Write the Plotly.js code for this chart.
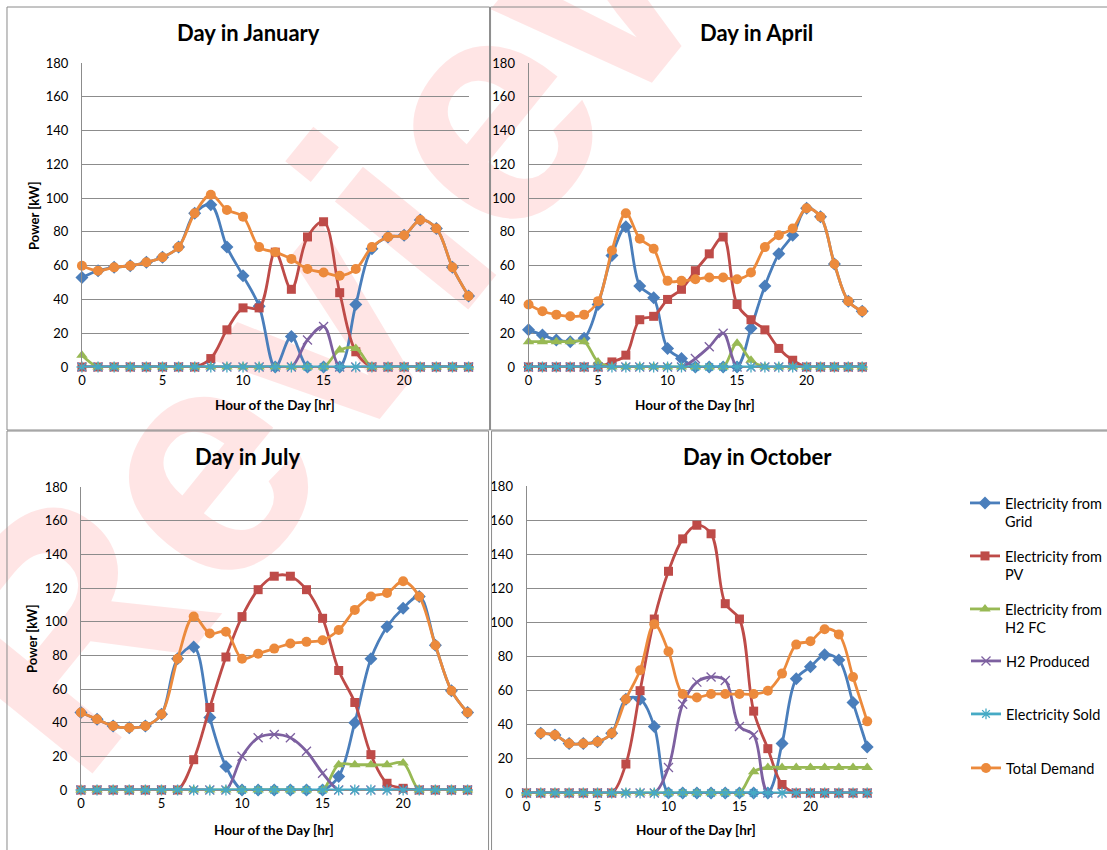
<!DOCTYPE html>
<html><head><meta charset="utf-8">
<script src="https://cdn.plot.ly/plotly-3.0.1.min.js"></script>
<style>html,body{margin:0;padding:0;background:#fff}#chart{width:1107px;height:850px}</style>
</head><body><div id="chart"></div>
<script>
// ---- data ----
const hours = [0,1,2,3,4,5,6,7,8,9,10,11,12,13,14,15,16,17,18,19,20,21,22,23,24];
const xTicks = [0,5,10,15,20];

const seriesNames = ['Electricity from<br>Grid','Electricity from<br>PV','Electricity from<br>H2 FC','H2 Produced','Electricity Sold','Total Demand'];
const panelTitles = ['Day in January','Day in April','Day in July','Day in October'];

// January
const janGrid   = [53,57,59,60,62,65,71,91,96,71,54,36,0,18,0,0,0,37,70,77,78,87,82,59,42];
const janPV     = [0,0,0,0,0,0,0,0,5,22,35,35,68,46,77,86,44,9,0,0,0,0,0,0,0];
const janFC     = [7,0,0,0,0,0,0,0,0,0,0,0,0,0,0,0,10,11,0,0,0,0,0,0,0];
const janH2     = [0,0,0,0,0,0,0,0,0,0,0,0,0,0,16,24,0,0,0,0,0,0,0,0,0];
const janSold   = [0,0,0,0,0,0,0,0,0,0,0,0,0,0,0,0,0,0,0,0,0,0,0,0,0];
const janDemand = [60,57,59,60,62,65,71,91,102,93,89,71,68,64,58,56,54,58,71,77,78,87,82,59,42];

// April
const aprGrid   = [22,19,16,15,17,37,66,83,48,41,11,5,0,0,0,0,23,48,67,78,94,89,61,39,33];
const aprPV     = [0,0,0,0,0,0,3,7,28,30,40,46,57,67,77,37,28,22,11,4,0,0,0,0,0];
const aprFC     = [15,15,15,15,15,3,0,0,0,0,0,0,0,0,0,14,4,0,0,0,0,0,0,0,0];
const aprH2     = [0,0,0,0,0,0,0,0,0,0,0,0,5,12,20,0,0,0,0,0,0,0,0,0,0];
const aprSold   = [0,0,0,0,0,0,0,0,0,0,0,0,0,0,0,0,0,0,0,0,0,0,0,0,0];
const aprDemand = [37,33,31,30,31,39,69,91,76,70,51,51,52,53,53,52,56,71,78,82,94,89,61,39,33];

// July
const julGrid   = [46,42,38,37,38,45,78,85,43,14,0,0,0,0,0,0,8,40,78,97,108,115,86,59,46];
const julPV     = [0,0,0,0,0,0,0,18,49,79,103,119,127,127,119,102,71,52,21,4,1,0,0,0,0];
const julFC     = [0,0,0,0,0,0,0,0,0,0,0,0,0,0,0,0,15,15,15,15,16,0,0,0,0];
const julH2     = [0,0,0,0,0,0,0,0,0,0,20,31,33,31,23,10,0,0,0,0,0,0,0,0,0];
const julSold   = [0,0,0,0,0,0,0,0,0,0,0,0,0,0,0,0,0,0,0,0,0,0,0,0,0];
const julDemand = [46,42,38,37,38,45,78,103,93,94,78,81,84,87,88,89,95,107,115,117,124,115,86,59,46];

// October
const octGrid   = [null,35,34,29,29,30,35,55,55,39,0,0,0,0,0,0,0,0,29,67,74,81,78,53,27];
const octPV     = [0,0,0,0,0,0,0,17,60,102,130,149,157,152,111,102,48,26,5,0,0,0,0,0,0];
const octFC     = [0,0,0,0,0,0,0,0,0,0,0,0,0,0,0,0,12.5,15,15,15,15,15,15,15,15];
const octH2     = [0,0,0,0,0,0,0,0,0,0,15,52,65,68,66,39,34,0,0,0,0,0,0,0,0];
const octSold   = [0,0,0,0,0,0,0,0,0,0,0,0,0,0,0,0,0,0,0,0,0,0,0,0,0];
const octDemand = [null,35,34,29,29,30,35,55,72,99,83,58,56,58,58,58,58,60,70,87,89,96,93,68,42];

const panelData = [
  [janGrid, janPV, janFC, janH2, janSold, janDemand],
  [aprGrid, aprPV, aprFC, aprH2, aprSold, aprDemand],
  [julGrid, julPV, julFC, julH2, julSold, julDemand],
  [octGrid, octPV, octFC, octH2, octSold, octDemand]
];

// ---- style ----
const W = 1107, H = 850;
const FONT = 'Lato, "Open Sans", sans-serif';
const colors  = ['#4A7EBB','#BE4B48','#98B954','#7D60A0','#46AAC5','#EC8A3C'];
const symbols = ['diamond','square','triangle-up','x-thin-open','asterisk-open','circle'];
const msizes  = [10,9,10,9,9,10];
const gridCol = '#8C8C8C';

// pixel boxes of plot areas: [x0, x1, yTop, yBottom]
const boxes = [[82,469,63,367],[529,863,63,367],[81,468,487,790],[527,868,486,793]];
const px = v => v / W, py = v => 1 - v / H;

const traces = [];
panelData.forEach((series, p) => {
  const xa = 'x' + (p ? p + 1 : ''), ya = 'y' + (p ? p + 1 : '');
  series.forEach((vals, s) => {
    const open = symbols[s].includes('open');
    traces.push({
      x: hours, y: vals, xaxis: xa, yaxis: ya,
      name: seriesNames[s], type: 'scatter', mode: 'lines+markers',
      line: {color: colors[s], width: 2.8, shape: 'spline', smoothing: 1},
      marker: {symbol: symbols[s], size: msizes[s], color: colors[s],
               line: {color: colors[s], width: open ? 1.3 : 0}},
      cliponaxis: false, connectgaps: false,
      showlegend: p === 0,
      legend: s === 0 ? 'legend' : 'legend' + (s + 1),
      hoverinfo: 'x+y+name'
    });
  });
});

const layout = {
  width: W, height: H,
  margin: {l: 0, r: 0, t: 0, b: 0},
  paper_bgcolor: '#ffffff', plot_bgcolor: 'rgba(0,0,0,0)',
  font: {family: FONT, size: 13, color: '#000'},
  annotations: [], shapes: []
};

boxes.forEach((b, p) => {
  const sfx = p ? String(p + 1) : '';
  layout['xaxis' + sfx] = {
    domain: [px(b[0]), px(b[1])], anchor: 'y' + sfx,
    range: [0, 24], tickvals: xTicks, showgrid: false, zeroline: false,
    showline: false, ticks: '', tickfont: {size: 13, color: '#000'},
    ticklabelstandoff: 4, fixedrange: true
  };
  layout['yaxis' + sfx] = {
    domain: [py(b[3]), py(b[2])], anchor: 'x' + sfx,
    range: [0, 180], tick0: 0, dtick: 20, showgrid: true,
    gridcolor: gridCol, gridwidth: 1, zeroline: true, zerolinecolor: gridCol,
    zerolinewidth: 1, showline: true, linecolor: gridCol, linewidth: 1,
    ticks: '', tickfont: {size: 13, color: '#000'}, ticklabelstandoff: 10,
    fixedrange: true
  };
});

// titles
const titlePos = [[249,33],[757,33],[248,456],[758,456]];
titlePos.forEach((t, i) => layout.annotations.push({
  text: '<b>' + panelTitles[i] + '</b>', xref: 'paper', yref: 'paper',
  x: px(t[0]), y: py(t[1]), xanchor: 'center', yanchor: 'middle',
  showarrow: false, font: {family: FONT, size: 22, color: '#000'}
}));
const xtPos = [[275,405],[696,405],[274,830],[697,830]];
xtPos.forEach(t => layout.annotations.push({
  text: '<b>Hour of the Day [hr]</b>', xref: 'paper', yref: 'paper',
  x: px(t[0]), y: py(t[1]), xanchor: 'center', yanchor: 'middle',
  showarrow: false, font: {family: FONT, size: 13.5, color: '#000'}
}));
[[34,215],[32,638]].forEach(t => layout.annotations.push({
  text: '<b>Power [kW]</b>', xref: 'paper', yref: 'paper', textangle: -90,
  x: px(t[0]), y: py(t[1]), xanchor: 'center', yanchor: 'middle',
  showarrow: false, font: {family: FONT, size: 13, color: '#000'}
}));

// panel borders
[[7,7,490,430],[491,7,1120,430],[7,431,489,870],[492,431,1120,870]].forEach(r => layout.shapes.push({
  type: 'rect', xref: 'paper', yref: 'paper',
  x0: px(r[0]), x1: px(r[2]), y0: py(r[3]), y1: py(r[1]),
  line: {color: '#8A8A8A', width: 1}, fillcolor: 'rgba(0,0,0,0)', layer: 'above'
}));

// watermark
layout.shapes.push({
  type: 'rect', xref: 'paper', yref: 'paper',
  x0: px(120), x1: px(520), y0: py(465), y1: py(65),
  line: {width: 0}, fillcolor: 'rgba(0,0,0,0)', layer: 'below',
  label: {text: 'Review', textangle: -51, textposition: 'middle center',
          font: {family: '"Liberation Sans", Arial, sans-serif', size: 325, weight: 'bold', color: 'rgba(255,0,0,0.10)'}}
});

// legends
const legTops = [487, 540, 593, 645, 698, 752];
legTops.forEach((t, i) => {
  layout[i === 0 ? 'legend' : 'legend' + (i + 1)] = {
    x: px(966), y: py(t), xanchor: 'left', yanchor: 'top', valign: 'top',
    bgcolor: 'rgba(0,0,0,0)', borderwidth: 0, tracegroupgap: 0,
    font: {family: FONT, size: 14.5, color: '#000'}, itemwidth: 30
  };
});

Plotly.newPlot('chart', traces, layout, {displayModeBar: false, staticPlot: true});
</script>
</body></html>
